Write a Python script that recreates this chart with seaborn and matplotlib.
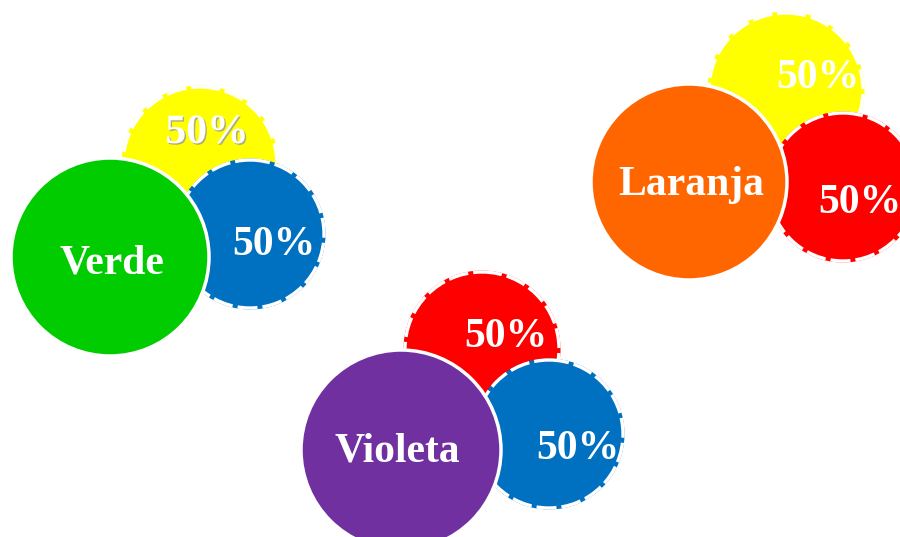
import matplotlib
matplotlib.use('Agg')
import matplotlib.pyplot as plt
import matplotlib.patheffects as pe
from matplotlib.patches import Circle
import seaborn as sns

# Mixed colours and the two primaries (with their share) that make each
mixes = ['Verde', 'Laranja', 'Violeta']
mix_colors = ['#00CC00', '#FF6600', '#7030A0']
primary_a = ['Amarelo', 'Amarelo', 'Vermelho']
primary_b = ['Azul', 'Vermelho', 'Azul']
share_a = [50, 50, 50]
share_b = [50, 50, 50]

primary_colors = {'Amarelo': '#FFFF00', 'Azul': '#0070C0', 'Vermelho': '#FF0000'}

# layout in pixel coordinates (x, y, radius) for each group
mix_pos = [(110, 257, 99), (689, 182, 98), (401, 450, 100)]
a_pos = [(200, 164, 77), (786, 90, 77), (482, 349, 77)]
b_pos = [(250, 234, 74), (843, 187, 74), (549, 434, 74)]
mix_text = [(112, 273), (691, 195), (397, 462)]
a_text = [(207, 143), (818, 88), (506, 347)]
b_text = [(274, 255), (860, 213), (578, 459)]

sns.set_theme(style='white')
plt.rcParams['font.family'] = ['Liberation Serif', 'DejaVu Serif']

fig = plt.figure(figsize=(9, 5.37), dpi=100)
ax = fig.add_axes([0, 0, 1, 1])
ax.set_xlim(0, 900)
ax.set_ylim(537, 0)
ax.set_aspect('equal')
ax.axis('off')


def dashed_circle(x, y, r, color, z):
    # coloured rim covered by a white dashed line, gives the ragged edge
    ax.add_patch(Circle((x, y), r, facecolor=color, edgecolor=color, lw=2.2, zorder=z))
    ax.add_patch(Circle((x, y), r, facecolor='none', edgecolor='white', lw=2.4,
                        linestyle=(0, (6, 1.5)), zorder=z + 0.1))


txt = dict(color='white', fontsize=30, fontweight='bold', ha='center', va='baseline')

for i, name in enumerate(mixes):
    dashed_circle(*a_pos[i], primary_colors[primary_a[i]], 1)
    dashed_circle(*b_pos[i], primary_colors[primary_b[i]], 2)
    x, y, r = mix_pos[i]
    ax.add_patch(Circle((x, y), r, facecolor=mix_colors[i], edgecolor='white', lw=2.5, zorder=3))
    ax.text(*mix_text[i], name, zorder=5, **txt)
    ta = ax.text(*a_text[i], f'{share_a[i]}%', zorder=5, **txt)
    if i == 0:
        ta.set_path_effects([pe.withSimplePatchShadow(offset=(1, -1), shadow_rgbFace='#999999', alpha=0.8)])
    ax.text(*b_text[i], f'{share_b[i]}%', zorder=5, **txt)

fig.savefig('out.png', dpi=100, facecolor='white')
